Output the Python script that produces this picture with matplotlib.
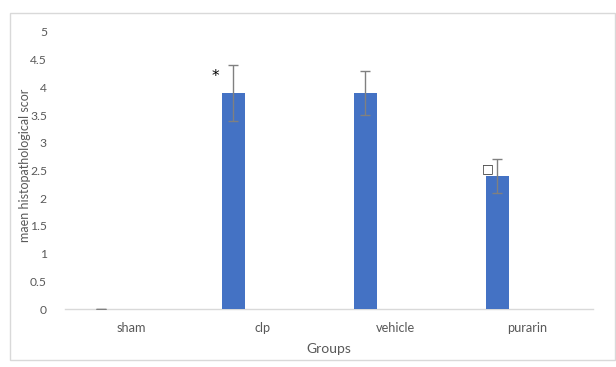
import matplotlib
matplotlib.use("Agg")
import matplotlib.pyplot as plt
from matplotlib.patches import Rectangle
import numpy as np

groups = ["sham", "clp", "vehicle", "purarin"]
scores = [0.0, 3.9, 3.9, 2.4]
errors = [0.0, 0.5, 0.4, 0.3]
y_ticks = [0, 0.5, 1, 1.5, 2, 2.5, 3, 3.5, 4, 4.5, 5]
y_tick_labels = ["0", "0.5", "1", "1.5", "2", "2.5", "3", "3.5", "4", "4.5", "5"]

plt.rcParams["font.family"] = ["Lato", "DejaVu Sans"]
text_grey = "#595959"
line_grey = "#d9d9d9"

fig = plt.figure(figsize=(6.16, 3.67), dpi=100)
fig.patch.set_facecolor("white")

# light chart-area frame
fig.patches.append(Rectangle((10 / 616, 7 / 367), 605 / 616, 347 / 367,
                             transform=fig.transFigure, fill=False,
                             edgecolor=line_grey, linewidth=1.0))

ax = fig.add_axes([65 / 616, 58 / 367, 528 / 616, 277 / 367])
x = np.arange(len(groups))
offset = -0.2235
width = 0.174

ax.bar(x + offset, scores, width=width, color="#4472C4", zorder=2)
ax.errorbar(x + offset, scores, yerr=errors, fmt="none", ecolor="#808080",
            elinewidth=1.0, capsize=3.5, capthick=1.0, zorder=3)

# significance markers
ax.text(1 - 0.364, 4.2, "*", ha="center", va="center", fontsize=11,
        color="black", family="DejaVu Sans")
ax.text(3 - 0.295, 2.53, "\u25a1", ha="center", va="center", fontsize=9,
        color="#333333", family="DejaVu Sans")

ax.set_xlim(-0.5, len(groups) - 0.5)
ax.set_ylim(0, 5)
ax.set_yticks(y_ticks)
ax.set_yticklabels(y_tick_labels)
ax.set_xticks(x)
ax.set_xticklabels(groups)
ax.tick_params(axis="both", length=0, colors=text_grey)
ax.tick_params(axis="y", pad=13, labelsize=8.7)
ax.tick_params(axis="x", pad=9, labelsize=9.2)

for side in ["top", "right", "left"]:
    ax.spines[side].set_visible(False)
ax.spines["bottom"].set_color(line_grey)
ax.spines["bottom"].set_linewidth(1.0)
ax.spines["bottom"].set_zorder(1)

fig.text(25 / 616, 1 - 165 / 367, "maen histopathological scor", rotation=90,
         ha="center", va="center", fontsize=9, color=text_grey)
fig.text(329 / 616, 1 - 349 / 367, "Groups", ha="center", va="center",
         fontsize=10, color=text_grey)

fig.savefig("out.png", dpi=100, facecolor="white")
